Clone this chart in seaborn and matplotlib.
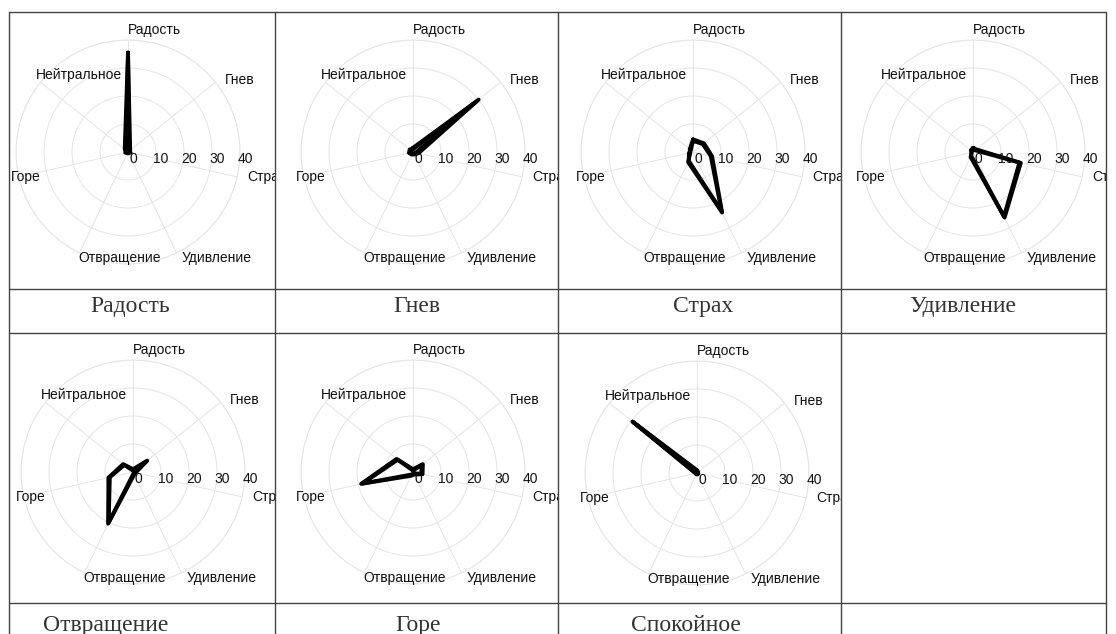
import numpy as np
import pandas as pd
import matplotlib
matplotlib.use("Agg")
import matplotlib.pyplot as plt
from matplotlib.lines import Line2D
from matplotlib.transforms import Bbox, TransformedBbox
import seaborn as sns

# axis names of every radar, clockwise from the top
axis_labels = ["Радость", "Гнев", "Страх", "Удивление", "Отвращение", "Горе", "Нейтральное"]
panel_titles = ["Радость", "Гнев", "Страх", "Удивление", "Отвращение", "Горе", "Спокойное"]
r_ticks = [0, 10, 20, 30, 40]

# two overlapping series per panel
radost_1 = [35.5, 1.0, 0.5, 0.5, 0.5, 0.5, 1.5]
radost_2 = [34.5, 0.5, 1.0, 0.0, 0.5, 1.0, 1.0]
gnev_1 = [1.0, 30.0, 2.0, 1.0, 1.0, 1.5, 1.5]
gnev_2 = [1.5, 29.0, 1.0, 0.5, 0.5, 1.0, 1.0]
strakh_1 = [4.5, 5.0, 7.0, 24.0, 4.0, 1.0, 1.5]
strakh_2 = [4.0, 4.5, 6.5, 23.5, 3.5, 1.5, 1.0]
udivl_1 = [1.5, 1.5, 17.5, 26.0, 2.0, 0.5, 1.0]
udivl_2 = [1.0, 1.0, 17.0, 25.5, 1.5, 0.5, 0.5]
otvr_1 = [1.0, 6.5, 1.0, 1.0, 20.5, 9.0, 4.5]
otvr_2 = [0.5, 6.0, 0.5, 0.5, 20.0, 8.5, 4.0]
gore_1 = [1.0, 4.5, 3.5, 1.0, 1.5, 19.0, 7.5]
gore_2 = [0.5, 4.0, 3.0, 0.5, 1.0, 18.5, 7.0]
spok_1 = [1.0, 0.5, 0.5, 0.5, 0.5, 0.5, 29.5]
spok_2 = [0.5, 0.5, 0.0, 0.5, 0.5, 0.5, 29.0]

panels = [(radost_1, radost_2), (gnev_1, gnev_2), (strakh_1, strakh_2), (udivl_1, udivl_2),
          (otvr_1, otvr_2), (gore_1, gore_2), (spok_1, spok_2)]

# layout in pixels (y from the top)
W, H = 1116, 634
col_x = [9, 275, 558, 841, 1106]
row_top = [12, 333]
row_bottom = [289, 603]
centers = [(128, 152), (413, 152), (693, 152), (973, 152), (133, 472), (413, 472), (697, 473)]
caption_x = [130, 417, 703, 963, 106, 418, 686]
caption_base = [312, 631]
R = 112

# pixel offsets of the axis names from the end of each spoke
label_offsets = [(0, 10), (9, 2), (10, 0), (5, -5), (-1, -5), (-8, 0), (-5, 7)]

sns.set_style("white")
plt.rcParams["font.family"] = ["Liberation Sans", "DejaVu Sans"]

fig = plt.figure(figsize=(W / 100, H / 100), dpi=100)


def fx(x):
    return x / W


def fy(y):
    return 1 - y / H


line_kw = dict(color="#444444", lw=1.0)
for x in col_x:
    fig.add_artist(Line2D([fx(x), fx(x)], [fy(row_top[0]), fy(H)], **line_kw))
for y in [row_top[0], row_bottom[0], row_top[1], row_bottom[1]]:
    fig.add_artist(Line2D([fx(col_x[0]), fx(col_x[-1])], [fy(y), fy(y)], **line_kw))

angles = np.arange(len(axis_labels)) * 2 * np.pi / len(axis_labels)

for i, (s1, s2) in enumerate(panels):
    row, col = divmod(i, 4)
    cx, cy = centers[i]
    ax = fig.add_axes([fx(cx - R), fy(cy + R), 2 * R / W, 2 * R / H], projection="polar")
    ax.set_theta_zero_location("N")
    ax.set_theta_direction(-1)

    theta = np.append(angles, 2 * np.pi)
    df = pd.concat([
        pd.DataFrame({"theta": theta, "value": s + s[:1], "series": name})
        for name, s in (("a", s1), ("b", s2))
    ])
    sns.lineplot(data=df, x="theta", y="value", hue="series", palette=["black", "black"],
                 sort=False, estimator=None, legend=False, lw=2.8, ax=ax)

    ax.set_ylim(0, 40)
    ax.set_yticks(r_ticks[1:])
    ax.set_yticklabels([])
    ax.set_xticks(angles)
    ax.set_xticklabels([])
    ax.set_xlabel("")
    ax.set_ylabel("")
    ax.grid(True, color="#e4e4e4", lw=0.7)
    ax.spines["polar"].set_color("#e4e4e4")
    ax.spines["polar"].set_linewidth(0.7)

    cell = TransformedBbox(Bbox.from_extents(fx(col_x[col]), fy(row_bottom[row]),
                                             fx(col_x[col + 1]), fy(row_top[row])),
                           fig.transFigure)

    for ang, lab, (dx, dy) in zip(angles, axis_labels, label_offsets):
        t = ax.annotate(lab, (ang, 40), xytext=(dx, dy), textcoords="offset pixels",
                        ha="left", va="center", fontsize=10, color="#111111",
                        annotation_clip=False)
        t.set_clip_on(True)
        t.set_clip_box(cell)

    for r in r_ticks:
        ax.annotate(str(r), (np.pi / 2, r), xytext=(5, -7), textcoords="offset pixels",
                    ha="center", va="center", fontsize=10, color="#111111",
                    annotation_clip=False)

    fig.text(fx(caption_x[i]), fy(caption_base[row]), panel_titles[i], ha="center",
             va="baseline", family=["Liberation Serif", "DejaVu Serif"], fontsize=17,
             color="#333333")

fig.savefig("out.png", dpi=100)
